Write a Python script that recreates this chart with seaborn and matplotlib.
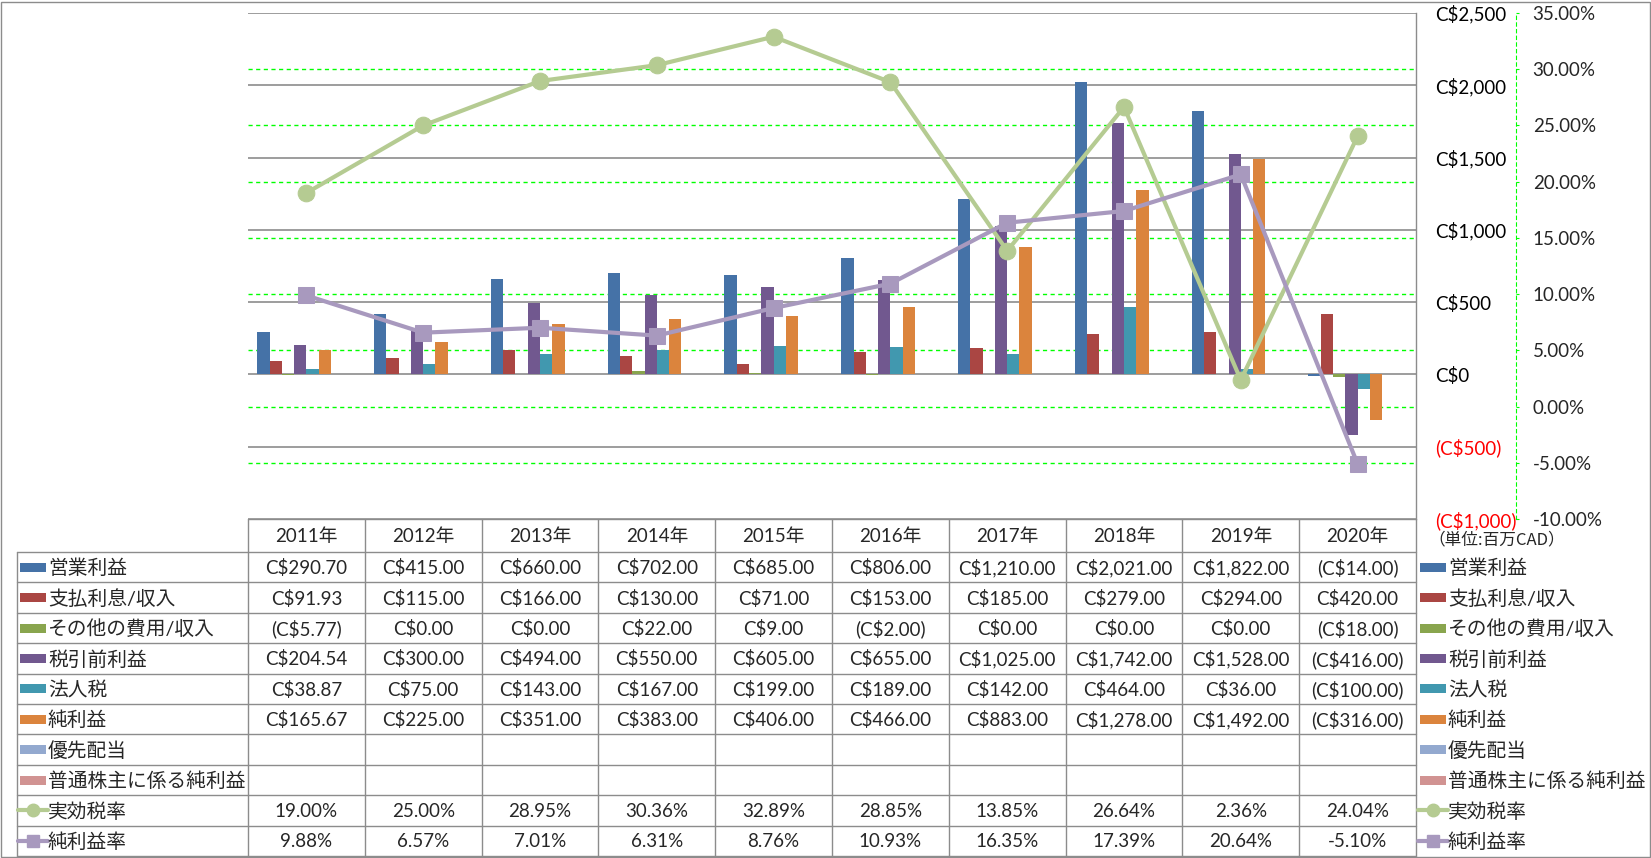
import matplotlib
matplotlib.use("Agg")
import matplotlib.pyplot as plt
from matplotlib.lines import Line2D
from matplotlib.patches import Rectangle
import matplotlib.transforms as mtransforms
import seaborn as sns
import pandas as pd
import numpy as np

years = ["2011年", "2012年", "2013年", "2014年", "2015年", "2016年", "2017年", "2018年", "2019年", "2020年"]

bar_names = ["営業利益", "支払利息/収入", "その他の費用/収入", "税引前利益", "法人税", "純利益",
             "優先配当", "普通株主に係る純利益"]
op_income = [290.70, 415.00, 660.00, 702.00, 685.00, 806.00, 1210.00, 2021.00, 1822.00, -14.00]
interest = [91.93, 115.00, 166.00, 130.00, 71.00, 153.00, 185.00, 279.00, 294.00, 420.00]
other_exp = [-5.77, 0.00, 0.00, 22.00, 9.00, -2.00, 0.00, 0.00, 0.00, -18.00]
pretax = [204.54, 300.00, 494.00, 550.00, 605.00, 655.00, 1025.00, 1742.00, 1528.00, -416.00]
corp_tax = [38.87, 75.00, 143.00, 167.00, 199.00, 189.00, 142.00, 464.00, 36.00, -100.00]
net_income = [165.67, 225.00, 351.00, 383.00, 406.00, 466.00, 883.00, 1278.00, 1492.00, -316.00]
pref_div = [None] * 10
common_ni = [None] * 10

line_names = ["実効税率", "純利益率"]
eff_tax = [19.00, 25.00, 28.95, 30.36, 32.89, 28.85, 13.85, 26.64, 2.36, 24.04]
margin = [9.88, 6.57, 7.01, 6.31, 8.76, 10.93, 16.35, 17.39, 20.64, -5.10]

bar_colors = ["#4572A7", "#AA4643", "#89A54E", "#71588F", "#4198AF", "#DB843D", "#93A9CF", "#D19392"]
line_colors = ["#B5CB92", "#A899BE"]

bar_series = [op_income, interest, other_exp, pretax, corp_tax, net_income, pref_div, common_ni]

rows = []
for name, vals in zip(bar_names, bar_series):
    for y, v in zip(years, vals):
        if v is not None:
            rows.append({"year": y, "series": name, "value": v})
df = pd.DataFrame(rows)

sns.set_style("white")
plt.rcParams["font.family"] = ["Lato", "Noto Sans CJK JP", "DejaVu Sans"]

W, H = 1651, 858
fig = plt.figure(figsize=(W / 100, H / 100), dpi=100)

GRAY = "#8C8C8C"
FS = 13.5
FS_JP = 14.2

# table / frame layer in pixel coords
tab = fig.add_axes([0, 0, 1, 1])
tab.set_xlim(0, W)
tab.set_ylim(H, 0)
tab.axis("off")

ax = fig.add_axes([248 / W, (H - 519) / H, (1416 - 248) / W, (519 - 13) / H])
ax2 = ax.twinx()

sns.barplot(data=df, x="year", y="value", hue="series", hue_order=bar_names, order=years,
            palette=bar_colors, width=8 / 9.5, saturation=1, errorbar=None, linewidth=0,
            legend=False, ax=ax)

xs = np.arange(len(years))
for vals, c in zip([eff_tax, margin], line_colors):
    mk = "o" if c == line_colors[0] else "s"
    sns.lineplot(x=xs, y=vals, ax=ax2, color=c, linewidth=3, marker=mk, markersize=12,
                 markeredgecolor=c, legend=False)

ax.set_xlim(-0.5, len(years) - 0.5)
ax.set_ylim(-1000, 2500)
ax2.set_ylim(-10, 35)

yt = list(range(-1000, 2501, 500))
ylabels = [f"C${v:,.0f}" if v >= 0 else f"(C${-v:,.0f})" for v in yt]
ax.yaxis.tick_right()
ax.set_yticks(yt, labels=ylabels)
pt = list(range(-10, 36, 5))
ax2.set_yticks(pt, labels=[f"{v:.2f}%" for v in pt])

ax.tick_params(axis="y", length=0, pad=14, labelsize=FS)
ax2.tick_params(axis="y", length=2, width=0.8, color="#00FF00", pad=10, labelsize=FS)
for a, ticks in [(ax, yt), (ax2, pt)]:
    for tk, v in zip(a.yaxis.get_major_ticks(), ticks):
        col = "#FF0000" if v < 0 else "black"
        tk.label1.set_color(col)
        tk.label2.set_color(col)

for a in (ax, ax2):
    a.tick_params(axis="x", bottom=False, labelbottom=False, top=False)
    a.set_xlabel("")
    a.set_ylabel("")
    for s in ["top", "left", "bottom"]:
        a.spines[s].set_visible(False)
    a.grid(False)

ax.spines["right"].set_color(GRAY)
ax.spines["right"].set_linewidth(1)
ax2.spines["right"].set_position(("axes", (1516 - 248) / (1416 - 248)))
ax2.spines["right"].set_color("#00FF00")
ax2.spines["right"].set_linestyle((0, (3, 3)))
ax2.spines["right"].set_linewidth(0.8)

# primary gridlines (gray) and secondary gridlines (green dashed), behind bars
for v in yt:
    ax.axhline(v, color=GRAY, linewidth=1.2, zorder=0.5)
blend = mtransforms.blended_transform_factory(ax.transAxes, ax2.transData)
for v in pt[1:-1]:
    ax.plot([0, 1], [v, v], transform=blend, color="#00FF00", linewidth=1,
            linestyle=(0, (3, 2.5)), zorder=0.6)

# data table
col_l, col_r = 248, 1416
ncol = len(years)
cw = (col_r - col_l) / ncol
head_t, head_b = 519, 552
rh = (856 - 552) / 10
lw = 1

tab.plot([col_l, col_r], [head_t, head_t], color=GRAY, lw=lw)
for i in range(ncol + 1):
    x = col_l + i * cw
    tab.plot([x, x], [head_t, 856], color=GRAY, lw=lw)
tab.plot([17, 17], [head_b, 856], color=GRAY, lw=lw)
for r in range(11):
    y = head_b + r * rh
    tab.plot([17, col_r], [y, y], color=GRAY, lw=lw)
for i, yr in enumerate(years):
    tab.text(col_l + (i + 0.5) * cw, (head_t + head_b) / 2 + 1, yr, ha="center", va="center",
             fontsize=FS)


def fmt_cur(v):
    if v is None:
        return ""
    return f"C${v:,.2f}" if v >= 0 else f"(C${-v:,.2f})"


table_rows = [[fmt_cur(v) for v in s] for s in bar_series]
table_rows += [[f"{v:.2f}%" for v in eff_tax], [f"{v:.2f}%" for v in margin]]
all_names = bar_names + line_names
all_colors = bar_colors + line_colors

for r, (name, c, vals) in enumerate(zip(all_names, all_colors, table_rows)):
    yc = head_b + (r + 0.5) * rh
    for i, t in enumerate(vals):
        tab.text(col_l + (i + 0.5) * cw, yc + 1, t, ha="center", va="center", fontsize=FS)
    for kx in (20, 1420):
        if r < len(bar_names):
            tab.add_patch(Rectangle((kx, yc - 4.5), 26, 9, color=c, lw=0))
        else:
            tab.add_line(Line2D([kx - 2, kx + 28], [yc, yc], color=c, lw=3))
            tab.add_line(Line2D([kx + 13], [yc], color=c, marker="o" if r == 8 else "s",
                                markersize=9, lw=0))
        tab.text(kx + 28, yc + 1, name, ha="left", va="center", fontsize=FS_JP)

tab.text(1428, 540, "（単位:百万CAD）", ha="left", va="center", fontsize=12,
         family=["Noto Sans CJK JP"])

# outer border
tab.add_patch(Rectangle((0.5, 1.5), W - 2, H - 2.5, fill=False, edgecolor=GRAY, lw=1))

fig.savefig("out.png", dpi=100)
